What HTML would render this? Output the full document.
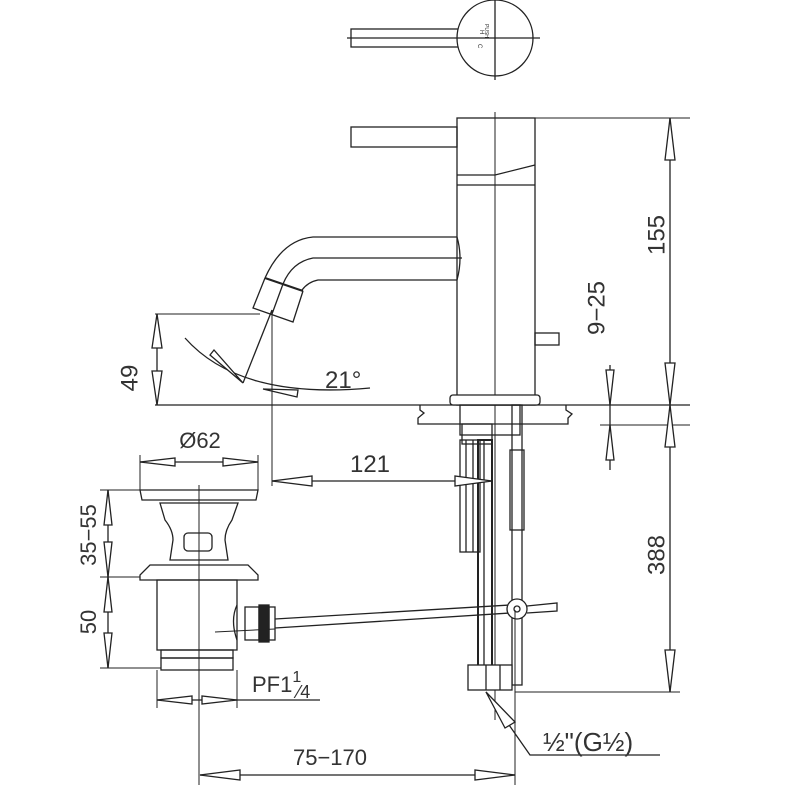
<!DOCTYPE html>
<html><head><style>body{margin:0;background:#fff}svg{display:block}text{font-family:"Liberation Sans",sans-serif;fill:#333;stroke:none}</style></head>
<body>
<svg width="800" height="800" viewBox="0 0 800 800" xmlns="http://www.w3.org/2000/svg" fill="none" stroke="#222" stroke-width="1.3">
<!-- top view -->
<rect x="351" y="29" width="108" height="18"/>
<circle cx="495" cy="38" r="38" fill="#fff"/>
<line x1="347" y1="38" x2="540" y2="38"/>
<line x1="495" y1="0" x2="495" y2="80"/>
<text x="480" y="30" font-size="6" transform="rotate(90 480 30)">H</text>
<text x="478" y="44" font-size="6" transform="rotate(90 478 44)">C</text>
<text x="485" y="24" font-size="5" transform="rotate(90 485 24)">PUSH</text>
<!-- body -->
<rect x="351" y="127" width="106" height="20"/>
<rect x="457" y="118" width="78" height="287"/>
<line x1="457" y1="175" x2="495" y2="175"/><path d="M495 175 L535 165"/>
<line x1="457" y1="185" x2="535" y2="185"/>
<line x1="495" y1="112" x2="495" y2="720" stroke-width="1"/>
<line x1="535" y1="118" x2="690" y2="118" stroke-width="1"/>
<rect x="535" y="333" width="24" height="12"/>
<!-- spout -->
<path d="M457 237 L313 237 Q282 240 265 278"/>
<path d="M462 258 L313 258 Q292 262 283 284"/>
<path d="M457 280 L318 280 Q308 282 302 290"/>
<path d="M457 237 Q463 258 457 280"/>
<path d="M265 278 L303 291" stroke-width="2"/>
<path d="M265 278 L253 308 L293 322 L303 291"/>
<line x1="283" y1="284" x2="272" y2="314"/>
<line x1="272" y1="310" x2="243" y2="383"/>
<!-- 21 deg -->
<path d="M185 338 Q240 400 370 388"/>
<polygon points="243,383 210,355 214,350" fill="#fff"/>
<polygon points="263,389 298,390 297,397" fill="#fff"/>
<text x="325" y="388" font-size="24">21°</text>
<!-- 49 -->
<line x1="155" y1="314" x2="260" y2="314" stroke-width="1"/>
<line x1="157" y1="314" x2="157" y2="405"/>
<polygon points="157,314 152,348 162,348" fill="#fff"/>
<polygon points="157,405 152,371 162,371" fill="#fff"/>
<text x="131" y="378" font-size="24" transform="rotate(-90 131 378)" text-anchor="middle" dominant-baseline="middle">49</text>
<!-- counter -->
<line x1="155" y1="405" x2="690" y2="405"/>
<path d="M420 405 L420 410 L424 413 L418 418 L418 424 L568 424 L568 418 L572 414 L566 410 L566 405"/>
<rect x="450" y="395" width="90" height="10" rx="3" fill="#fff"/>
<rect x="460" y="405" width="60" height="30"/>
<rect x="462" y="424" width="30" height="20"/>
<!-- 155 -->
<line x1="670" y1="118" x2="670" y2="405"/>
<polygon points="670,118 665,160 675,160" fill="#fff"/>
<polygon points="670,405 665,363 675,363" fill="#fff"/>
<text x="658" y="235" font-size="24" transform="rotate(-90 658 235)" text-anchor="middle" dominant-baseline="middle">155</text>
<!-- 9-25 -->
<line x1="610" y1="365" x2="610" y2="470"/>
<polygon points="610,405 606,370 614,370" fill="#fff"/>
<polygon points="610,425 606,460 614,460" fill="#fff"/>
<line x1="600" y1="425" x2="690" y2="425" stroke-width="1"/>
<text x="598" y="308" font-size="24" transform="rotate(-90 598 308)" text-anchor="middle" dominant-baseline="middle">9−25</text>
<!-- 388 -->
<line x1="670" y1="405" x2="670" y2="692"/>
<polygon points="670,405 665,447 675,447" fill="#fff"/>
<polygon points="670,692 665,650 675,650" fill="#fff"/>
<line x1="515" y1="692" x2="680" y2="692" stroke-width="1"/>
<text x="658" y="555" font-size="24" transform="rotate(-90 658 555)" text-anchor="middle" dominant-baseline="middle">388</text>
<!-- hoses -->
<rect x="460" y="440" width="20" height="112"/>
<line x1="466" y1="440" x2="466" y2="552"/><line x1="473" y1="440" x2="473" y2="552"/>
<rect x="478" y="440" width="14" height="230" stroke-width="2"/>
<rect x="484" y="440" width="8" height="230"/>
<rect x="512" y="405" width="10" height="280"/>
<rect x="510" y="450" width="14" height="80"/>
<rect x="468" y="665" width="44" height="25" fill="#fff"/>
<line x1="486" y1="665" x2="486" y2="690"/><line x1="500" y1="665" x2="500" y2="690"/>
<!-- 121 -->
<line x1="272" y1="310" x2="272" y2="486" stroke-width="1"/>
<line x1="272" y1="481" x2="492" y2="481"/>
<polygon points="272,481 312,476 312,486" fill="#fff"/>
<polygon points="492,481 455,476 455,486" fill="#fff"/>
<text x="370" y="472" font-size="24" text-anchor="middle">121</text>
<!-- drain -->
<line x1="140" y1="455" x2="140" y2="490" stroke-width="1"/>
<line x1="258" y1="455" x2="258" y2="490" stroke-width="1"/>
<line x1="140" y1="462" x2="258" y2="462"/>
<polygon points="140,462 175,458 175,466" fill="#fff"/>
<polygon points="258,462 223,458 223,466" fill="#fff"/>
<text x="200" y="448" font-size="22" text-anchor="middle">Ø62</text>
<path d="M140 490 L258 490 L256 500 L142 500 Z"/>
<path d="M160 503 L238 503 L232 520 Q225 530 225 540 L228 560 L170 560 L173 540 Q173 530 165 520 Z"/>
<rect x="184" y="533" width="28" height="18" rx="4"/>
<path d="M150 565 L248 565 L258 575 L258 580 L140 580 L140 575 Z"/>
<rect x="157" y="580" width="80" height="70"/>
<rect x="161" y="650" width="72" height="8"/>
<rect x="161" y="658" width="72" height="12"/>
<line x1="199" y1="485" x2="199" y2="785" stroke-width="1"/>
<path d="M237 605 Q230 620 237 640"/>
<rect x="245" y="607" width="14" height="33"/>
<rect x="259" y="605" width="10" height="37" fill="#222"/>
<rect x="269" y="607" width="6" height="33"/>
<path d="M275 619 L510 605 M275 628 L510 613"/>
<circle cx="517" cy="609" r="10" fill="#fff"/><circle cx="517" cy="609" r="3"/>
<path d="M527 606 L557 603 L557 611 L527 613"/>
<line x1="215" y1="632" x2="275" y2="629" stroke-width="1"/>
<!-- 35-55 / 50 -->
<line x1="100" y1="490" x2="140" y2="490" stroke-width="1"/>
<line x1="100" y1="577" x2="140" y2="577" stroke-width="1"/>
<line x1="100" y1="668" x2="161" y2="668" stroke-width="1"/>
<line x1="108" y1="490" x2="108" y2="668"/>
<polygon points="108,490 104,525 112,525" fill="#fff"/>
<polygon points="108,577 104,542 112,542" fill="#fff"/>
<polygon points="108,577 104,612 112,612" fill="#fff"/>
<polygon points="108,668 104,633 112,633" fill="#fff"/>
<text x="90" y="535" font-size="22" transform="rotate(-90 90 535)" text-anchor="middle" dominant-baseline="middle">35−55</text>
<text x="90" y="622" font-size="22" transform="rotate(-90 90 622)" text-anchor="middle" dominant-baseline="middle">50</text>
<!-- bottom drain dim -->
<line x1="157" y1="670" x2="157" y2="708" stroke-width="1"/>
<line x1="237" y1="670" x2="237" y2="708" stroke-width="1"/>
<line x1="157" y1="700" x2="320" y2="700"/>
<polygon points="157,700 192,696 192,704" fill="#fff"/>
<polygon points="237,700 202,696 202,704" fill="#fff"/>
<text x="252" y="692" font-size="22">PF1<tspan font-size="16" dy="-10">1</tspan><tspan font-size="18" dy="16" dx="-4">⁄4</tspan></text>
<!-- 75-170 -->
<line x1="515" y1="610" x2="515" y2="785" stroke-width="1"/>
<line x1="200" y1="775" x2="515" y2="775"/>
<polygon points="200,775 240,770 240,780" fill="#fff"/>
<polygon points="515,775 475,770 475,780" fill="#fff"/>
<text x="330" y="765" font-size="22" text-anchor="middle">75−170</text>
<!-- 1/2 -->
<path d="M486 692 L530 755 L660 755"/>
<polygon points="486,692 505,728 515,722" fill="#fff"/>
<text x="543" y="751" font-size="26">½"(G½)</text>
</svg>
</body></html>
